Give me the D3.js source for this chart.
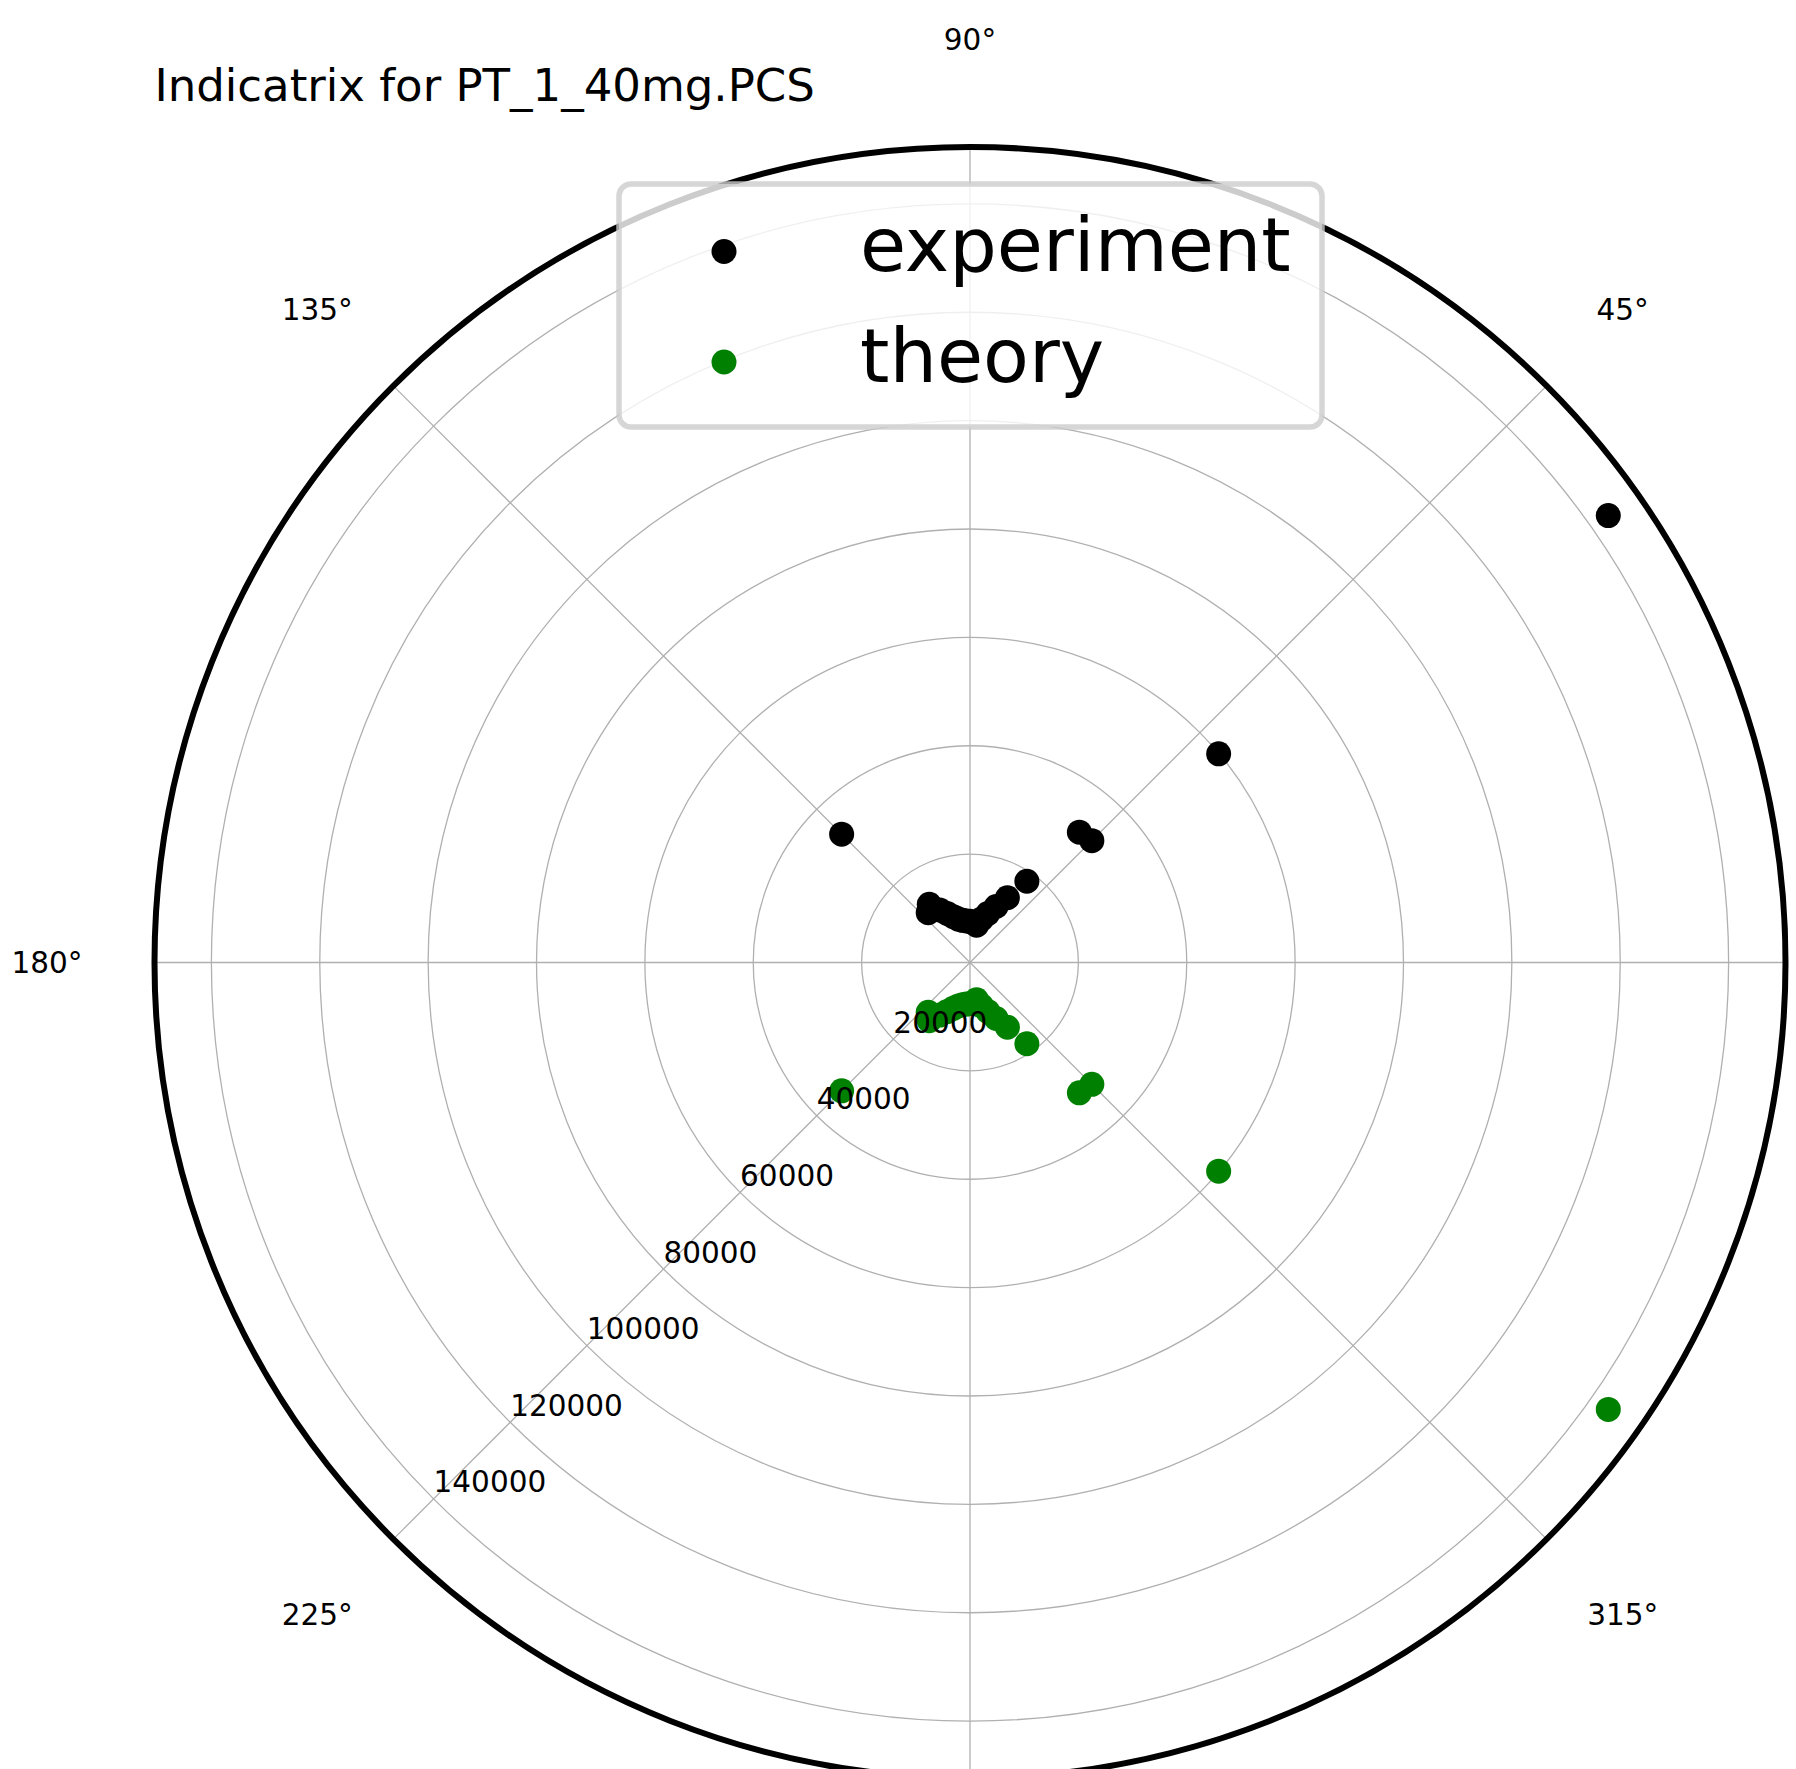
<!DOCTYPE html>
<html>
<head>
<meta charset="utf-8">
<script src="https://cdn.jsdelivr.net/npm/d3@7"></script>
<style>
  body { margin: 0; background: #fff; }
  svg { display: block; }
  text { font-family: "DejaVu Sans", sans-serif; fill: #000; }
</style>
</head>
<body>
<svg id="chart" width="1796" height="1769"></svg>
<script>
// Scattering indicatrix: intensity versus angle (degrees)
const titleText = "Indicatrix for PT_1_40mg.PCS";
const seriesNames = ["experiment", "theory"];

const experimentAngles = [35, 40, 45, 50, 55, 60, 65, 70, 75, 80, 85, 90, 95, 100, 105, 110, 115, 120, 125, 130, 135];
const experimentValues = [143800, 59900, 31800, 31400, 18300, 13800, 11400, 9600, 8300, 7000, 7400, 7600, 7700, 7900, 8300, 9000, 10000, 11200, 13100, 12000, 33500];

const theoryAngles = [-35, -40, -45, -50, -55, -60, -65, -70, -75, -80, -85, -90, -95, -100, -105, -110, -115, -120, -125, -130, -135];
const theoryValues = [143800, 59900, 31800, 31400, 18300, 13800, 11400, 9600, 8300, 7000, 7400, 7600, 7700, 7900, 8300, 9000, 10000, 11200, 13100, 12000, 33500];

const radialTicks = [20000, 40000, 60000, 80000, 100000, 120000, 140000];
const angleTicks = [0, 45, 90, 135, 180, 225, 270, 315];
const radialMax = 150500;

const W = 1796, H = 1769;
const cx = 970, cy = 962.5, R = 815.5;
const rLabelAngle = 225;

const svg = d3.select("#chart");
svg.append("rect").attr("width", W).attr("height", H).attr("fill", "#fff");

const r = d3.scaleLinear().domain([0, radialMax]).range([0, R]);
const rad = d => d * Math.PI / 180;
const px = (deg, v) => cx + r(v) * Math.cos(rad(deg));
const py = (deg, v) => cy - r(v) * Math.sin(rad(deg));

svg.append("defs").append("clipPath").attr("id", "plotArea")
  .append("circle").attr("cx", cx).attr("cy", cy).attr("r", R);

// grid
const grid = svg.append("g").attr("clip-path", "url(#plotArea)")
  .attr("fill", "none").attr("stroke", "#b0b0b0").attr("stroke-width", 1.3);
grid.selectAll("circle.ring").data(radialTicks).join("circle")
  .attr("class", "ring").attr("cx", cx).attr("cy", cy).attr("r", d => r(d));
grid.selectAll("line.spoke").data(angleTicks).join("line")
  .attr("class", "spoke")
  .attr("x1", cx).attr("y1", cy)
  .attr("x2", d => px(d, radialMax)).attr("y2", d => py(d, radialMax));

// data points
const series = [
  { name: seriesNames[0], color: "#000000", angles: experimentAngles, values: experimentValues },
  { name: seriesNames[1], color: "#008000", angles: theoryAngles, values: theoryValues }
];
const markerR = 12.5;
const dots = svg.append("g").attr("clip-path", "url(#plotArea)");
series.forEach(s => {
  dots.append("g").attr("fill", s.color)
    .selectAll("circle").data(s.values.map((v, i) => [s.angles[i], v])).join("circle")
    .attr("cx", d => px(d[0], d[1])).attr("cy", d => py(d[0], d[1])).attr("r", markerR);
});

// outer frame
svg.append("circle").attr("cx", cx).attr("cy", cy).attr("r", R)
  .attr("fill", "none").attr("stroke", "#000").attr("stroke-width", 6);

// radial tick labels
svg.append("g").selectAll("text").data(radialTicks).join("text")
  .attr("x", d => px(rLabelAngle, d))
  .attr("y", d => py(rLabelAngle, d) - 6.5)
  .attr("font-size", 29.5)
  .text(d => d3.format("d")(d));

// angular tick labels
const labelR = 923;
svg.append("g").selectAll("text")
  .data(angleTicks.filter(a => {
    const x = cx + labelR * Math.cos(rad(a)), y = cy - labelR * Math.sin(rad(a));
    return x > 30 && x < W - 30 && y > 15 && y < H - 15;
  }))
  .join("text")
  .attr("x", d => cx + labelR * Math.cos(rad(d)))
  .attr("y", d => cy - labelR * Math.sin(rad(d)))
  .attr("text-anchor", "middle").attr("dominant-baseline", "central")
  .attr("font-size", 29.5)
  .text(d => d + "°");

// title
svg.append("text").attr("x", 154.5).attr("y", 101).attr("font-size", 45).text(titleText);

// legend
const lg = svg.append("g");
lg.append("rect").attr("x", 619).attr("y", 184).attr("width", 703).attr("height", 243)
  .attr("rx", 12).attr("ry", 12)
  .attr("fill", "#fff").attr("fill-opacity", 0.8)
  .attr("stroke", "#cccccc").attr("stroke-opacity", 0.8).attr("stroke-width", 5.5);
series.forEach((s, i) => {
  const y = 251.5 + i * 110.5;
  lg.append("circle").attr("cx", 724).attr("cy", y).attr("r", markerR).attr("fill", s.color);
  lg.append("text").attr("x", 860).attr("y", y + 19.5).attr("font-size", 75).text(s.name);
});
</script>
</body>
</html>
